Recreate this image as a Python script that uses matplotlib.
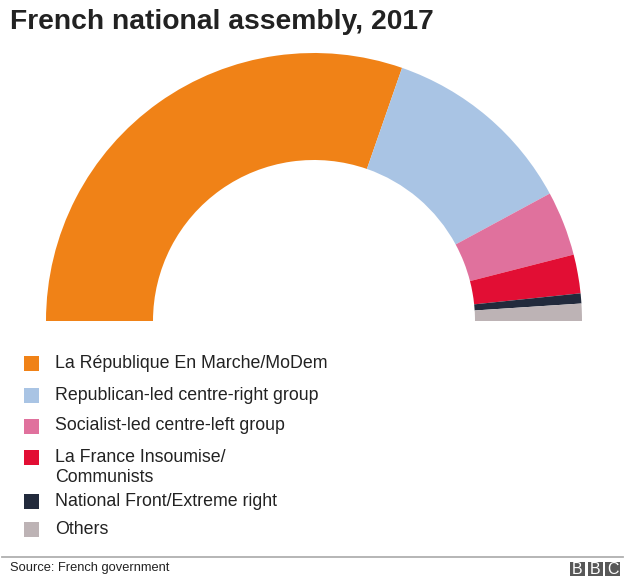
import matplotlib
matplotlib.use('Agg')
import matplotlib.pyplot as plt
import matplotlib.patches as patches

# Data
groups = ['La République En Marche/MoDem',
          'Republican-led centre-right group',
          'Socialist-led centre-left group',
          'La France Insoumise/\nCommunists',
          'National Front/Extreme right',
          'Others']
seats = [350, 136, 45, 27, 7, 12]
colors = ['#F08217', '#A9C4E4', '#E0719D', '#E20E34', '#222A3C', '#BDB3B5']

# Canvas (pixel coordinates, y measured from top via Y())
W, H = 625, 581
fig = plt.figure(figsize=(W / 100, H / 100), dpi=100)
ax = fig.add_axes([0, 0, 1, 1])


def Y(py):
    return H - py


plt.rcParams['font.family'] = ['Liberation Sans', 'DejaVu Sans']
text_c = '#222222'

# Half donut: the hidden wedge fills the bottom half
total = sum(seats)
wedges, _ = ax.pie(seats + [total], colors=colors + ['white'],
                   radius=268, center=(314, Y(321)),
                   startangle=180, counterclock=False,
                   wedgeprops=dict(width=107, linewidth=0))
wedges[-1].set_visible(False)

ax.set_xlim(0, W)
ax.set_ylim(0, H)
ax.set_aspect('equal')
ax.axis('off')

# Title
ax.text(10, Y(22), 'French national assembly, 2017', fontsize=20.3,
        fontweight='bold', color=text_c, ha='left', va='center')

# Legend
row_y = [363, 395, 426, 457, 501, 529]
for name, col, ry in zip(groups, colors, row_y):
    ax.add_patch(patches.Rectangle((24, Y(ry + 7.5)), 15, 15,
                                   facecolor=col, edgecolor='none'))
    for k, line in enumerate(name.split('\n')):
        ax.text(55, Y(ry + 20 * k), line, fontsize=12.8, color=text_c,
                ha='left', va='center')

# Footer
ax.plot([2, 623], [Y(557), Y(557)], color='#B0B0B0', lw=1.3)
ax.text(10, Y(568), 'Source: French government', fontsize=9.3,
        color=text_c, ha='left', va='center')
for i, letter in enumerate('BBC'):
    x0 = 570 + i * 17.5
    ax.add_patch(patches.Rectangle((x0, Y(576)), 15, 14.5,
                                   facecolor='#585858', edgecolor='none'))
    ax.text(x0 + 7.5, Y(569), letter, fontsize=11.5,
            color='white', ha='center', va='center')

fig.savefig('out.png', dpi=100)
